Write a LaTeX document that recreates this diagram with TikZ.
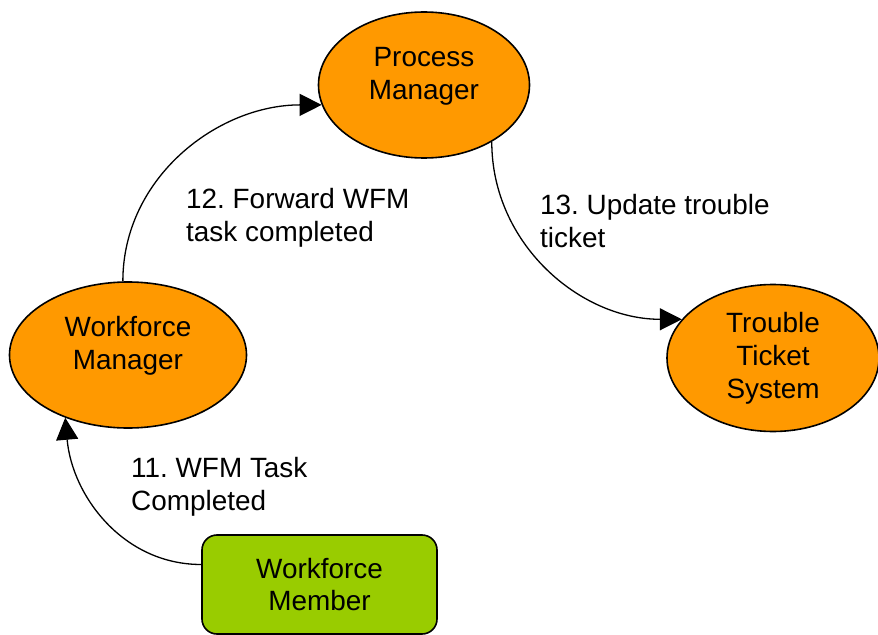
\documentclass[tikz,border=0pt]{standalone}
\usepackage{fontspec}
\setmainfont{Liberation Sans}
\frenchspacing
\usetikzlibrary{shapes.geometric}
\usetikzlibrary{arrows.meta}

\definecolor{actorfill}{HTML}{FF9900}
\definecolor{workerfill}{HTML}{99CC00}

\begin{document}
\begin{tikzpicture}[x=1bp,y=-1bp,
  actor/.style={ellipse, draw, line width=1.6bp, fill=actorfill, inner sep=0pt, align=center, font=\fontsize{28}{33}\selectfont},
  worker/.style={rectangle, rounded corners=15bp, draw, line width=1.6bp, fill=workerfill, inner sep=0pt, align=center, font=\fontsize{28}{33}\selectfont},
  flow/.style={line width=1.3bp, -{Triangle[length=22bp,width=22bp]}},
  step label/.style={anchor=west, align=left, inner sep=0pt, font=\fontsize{28}{33}\selectfont}]
\useasboundingbox (0,0) rectangle (878,635);
\node [actor, minimum width=211bp, minimum height=146bp, text depth=24bp] (pm) at (424,85) {Process\\Manager};
\node [actor, minimum width=237bp, minimum height=146bp, text depth=24bp] (wm) at (128,355) {Workforce\\Manager};
\node [actor, minimum width=212bp, minimum height=147bp] (tts) at (773,358) {Trouble\\Ticket\\System};
\node [worker, minimum width=235bp, minimum height=99bp] (member) at (319.5,584.5) {Workforce\\Member};

\draw [flow] ([yshift=20bp]member.west) to[out=180,in=-85] (wm.225);
\draw [flow] (wm.94) to[out=90,in=180] (pm.191);
\draw [flow] (pm.320) to[out=-90,in=180] (tts.157);

\node [step label] (l11) at (131,487) {11. WFM Task\\Completed};
\node [step label] (l12) at (186,218) {12. Forward WFM\\task completed};
\node [step label] (l13) at (540,221) {13. Update trouble\\ticket};
\end{tikzpicture}
\end{document}
